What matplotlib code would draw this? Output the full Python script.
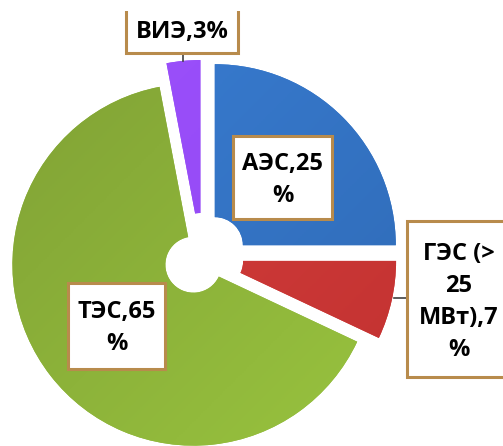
import numpy as np
import matplotlib
matplotlib.use('Agg')
import matplotlib.pyplot as plt
from matplotlib.patches import Rectangle
from matplotlib.colors import LinearSegmentedColormap

plt.rcParams['font.family'] = ['Open Sans', 'DejaVu Sans']

# Structure of generating capacity, %
labels = ['АЭС,25\n%', 'ГЭС (>\n25\nМВт),7\n%', 'ТЭС,65\n%', 'ВИЭ,3%']
values = [25, 7, 65, 3]
explode = [0.10, 0.074, 0.06, 0.094]
colors = ['#3677cb', '#d23b39', '#8fb83b', '#9a4cf6']
# lighter / darker ends of the soft shading on each slice
shade = [('#3a7fd6', '#2e68b2'), ('#d8413f', '#c0302f'),
         ('#7e9e34', '#9cc840'), ('#9d52ff', '#8f44ec')]

W, H = 503, 446
R = 181.0          # pie radius in pixels
CX, CY = 202, 258  # pie centre in pixels (from top-left)

fig = plt.figure(figsize=(W / 100, H / 100), dpi=100)
ax = fig.add_axes([0, 0, 1, 1])

wedges, _ = ax.pie(values, explode=explode, colors=colors, startangle=90,
                   counterclock=False, radius=1.0,
                   wedgeprops=dict(width=0.845, linewidth=0))


# pixel -> data helpers
def px(x):
    return (x - CX) / R


def py(y):
    return (CY - y) / R


# soft diagonal gradient on every slice
g = np.linspace(0, 1, 256)
grad = (g[None, :] + g[:, None]) / 2
for w, (c0, c1) in zip(wedges, shade):
    cmap = LinearSegmentedColormap.from_list('s', [c0, c1])
    im = ax.imshow(grad, cmap=cmap, extent=(-1.3, 1.3, -1.3, 1.3),
                   origin='upper', interpolation='bilinear',
                   zorder=w.get_zorder())
    im.set_clip_path(w)

ax.set_xlim(px(0), px(W))
ax.set_ylim(py(H), py(0))
ax.set_aspect('equal')
ax.axis('off')

border = '#b88b4c'
text_kw = dict(ha='center', va='center', fontsize=17, fontweight='bold',
               color='black', zorder=6, linespacing=1.45)


def label_box(x0, y0, x1, y1, txt, tx=None, ty=None, top_clip=None):
    rect = Rectangle((px(x0), py(y1)), (x1 - x0) / R, (y1 - y0) / R,
                     facecolor='white', edgecolor=border, linewidth=2.2,
                     zorder=5)
    ax.add_patch(rect)
    if top_clip is not None:
        # the chart area cuts the box off at its top
        clip = Rectangle((px(x0 - 5), py(y1 + 5)), (x1 - x0 + 10) / R,
                         (y1 + 5 - top_clip) / R, transform=ax.transData)
        rect.set_clip_path(clip)
    if tx is None:
        tx = (x0 + x1) / 2
    if ty is None:
        ty = (y0 + y1) / 2
    ax.text(px(tx), py(ty), txt, **text_kw)


# leader lines
ax.plot([px(183), px(183)], [py(53), py(61)], color='#404040', lw=1.2, zorder=4)
ax.plot([px(394), px(407)], [py(298), py(298)], color='#404040', lw=1.2, zorder=4)

label_box(233, 136, 332, 219, labels[0], ty=180)
label_box(407, 221, 520, 377, labels[1], tx=459, ty=302)
label_box(68, 283, 165, 369, labels[2], ty=328)
label_box(126, -20, 238, 53, labels[3], ty=32, top_clip=11)

fig.savefig('out.png', dpi=100)
